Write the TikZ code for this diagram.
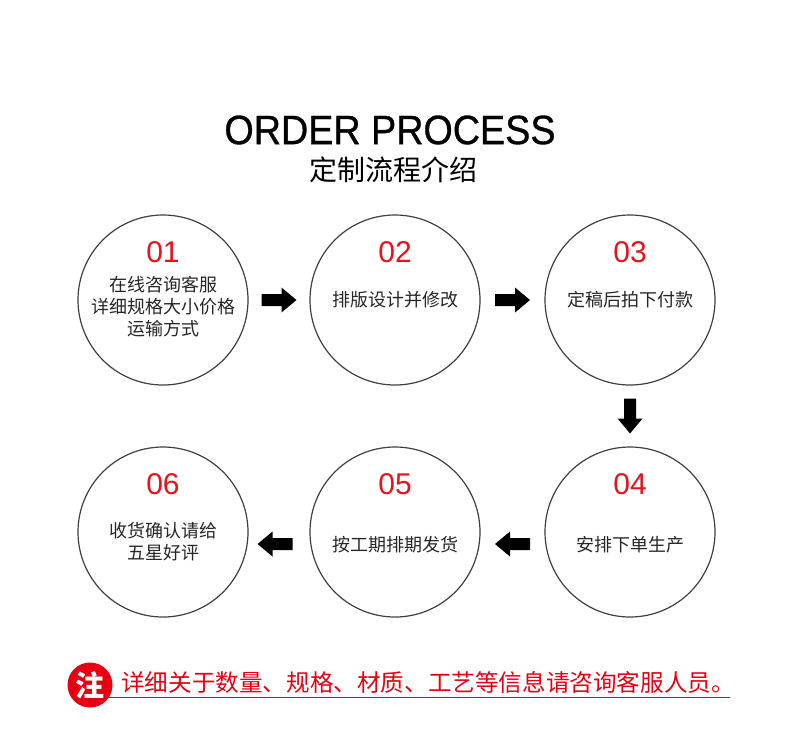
\documentclass[tikz,border=0pt]{standalone}
\usepackage{fontspec}
\setmainfont{Liberation Sans}
\newfontfamily\titlefont[FakeBold=0.8]{Liberation Sans}
\newfontfamily\cjk{Noto Sans CJK SC}
\usetikzlibrary{calc}
\definecolor{numred}{HTML}{E5141B}
\definecolor{notered}{HTML}{E60012}
\begin{document}
\begin{tikzpicture}[x=1pt,y=-1pt,
  stepcircle/.style={circle,draw=black!75,line width=1.2pt,minimum size=170pt,inner sep=0},
  num/.style={text=numred,font=\fontsize{30}{30}\selectfont,inner sep=0},
  desc/.style={font=\cjk\fontsize{18}{22}\selectfont,align=center,inner sep=0,text=black!85},
  blockarrow/.pic={\fill[black] (-17.5,-6) -- (2.5,-6) -- (2.5,-12.5) -- (17.5,0) -- (2.5,12.5) -- (2.5,6) -- (-17.5,6) -- cycle;}]
\useasboundingbox[fill=white] (0,0) rectangle (800,753);

% title
\node[font=\titlefont\fontsize{41}{44}\selectfont,inner sep=0] (title) at (390,130) {\scalebox{0.92}[1]{ORDER PROCESS}};
\node[font=\cjk\fontsize{28}{30}\selectfont,inner sep=0] (subtitle) at (393,170) {定制流程介绍};

% circles
\node[stepcircle] (c1) at (163,300) {};
\node[stepcircle] (c2) at (395,300) {};
\node[stepcircle] (c3) at (630,300) {};
\node[stepcircle] (c4) at (630,532) {};
\node[stepcircle] (c5) at (395,532) {};
\node[stepcircle] (c6) at (163,532) {};

% numbers
\node[num] (n1) at (163,252) {01};
\node[num] (n2) at (395,252) {02};
\node[num] (n3) at (630,252) {03};
\node[num] (n4) at (630,484) {04};
\node[num] (n5) at (395,484) {05};
\node[num] (n6) at (163,484) {06};

% descriptions
\node[desc] (d1) at (163,307) {在线咨询客服\\详细规格大小价格\\运输方式};
\node[desc] (d2) at (395,300) {排版设计并修改};
\node[desc] (d3) at (630,300) {定稿后拍下付款};
\node[desc] (d4) at (630,545) {安排下单生产};
\node[desc] (d5) at (395,545) {按工期排期发货};
\node[desc] (d6) at (163,542) {收货确认请给\\五星好评};

% arrows between circles
\coordinate (a12) at ($(c1)!0.5!(c2)$);
\coordinate (a23) at ($(c2)!0.5!(c3)$);
\coordinate (a34) at ($(c3)!0.5!(c4)$);
\coordinate (a45) at ($(c4)!0.5!(c5)+(0,12)$);
\coordinate (a56) at ($(c5)!0.5!(c6)+(-4,12)$);
\pic at (a12) {blockarrow};
\pic at (a23) {blockarrow};
\pic[rotate=-90] at (a34) {blockarrow};
\pic[rotate=180] at (a45) {blockarrow};
\pic[rotate=180] at (a56) {blockarrow};

% note
\coordinate (ulstart) at (100,697);
\coordinate (ulend) at (730,697);
\draw[notered,line width=1pt] (ulstart) -- (ulend);
\node[circle,fill=notered,minimum size=45pt,inner sep=0,text=white,font=\cjk\bfseries\fontsize{29}{29}\selectfont] (zhu) at (90,685) {注};
\node[anchor=west,text=notered,font=\cjk\fontsize{23.6}{25}\selectfont,inner sep=0] (note) at (121,683) {详细关于数量、规格、材质、工艺等信息请咨询客服人员。};
\end{tikzpicture}
\end{document}
